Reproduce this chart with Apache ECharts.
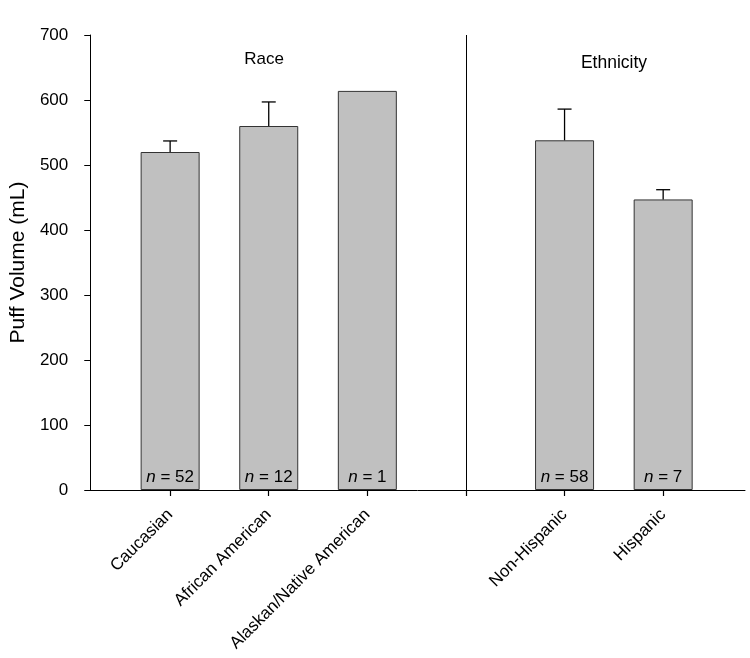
<!DOCTYPE html>
<html>
<head>
<meta charset="utf-8">
<script src="https://cdn.jsdelivr.net/npm/echarts@6/dist/echarts.min.js"></script>
<style>
html,body{margin:0;padding:0;background:#fff;}
#chart{width:750px;height:658px;}
</style>
</head>
<body>
<div id="chart"></div>
<script>
// Data
var categories = ['Caucasian', 'African American', 'Alaskan/Native American', '', 'Non-Hispanic', 'Hispanic'];
var barPositions = [0, 1, 2, 4, 5];
var means = [520, 560, 614, 538, 447];
var errorTops = [537, 597, null, 586, 462];
var nValues = [52, 12, 1, 58, 7];
var groupTitles = ['Race', 'Ethnicity'];
var separatorPos = 3;

var barData = barPositions.map(function (p, i) { return [p, means[i], nValues[i]]; });
var errData = [];
barPositions.forEach(function (p, i) {
  if (errorTops[i] != null) errData.push([p, means[i], errorTops[i]]);
});

var chart = echarts.init(document.getElementById('chart'));
var font = 'Liberation Sans, Arial, sans-serif';

chart.setOption({
  animation: false,
  backgroundColor: '#ffffff',
  textStyle: { fontFamily: font },
  grid: { left: 90, right: 5, top: 35, bottom: 168 },
  xAxis: {
    type: 'value',
    min: -0.81,
    max: 5.83,
    splitLine: { show: false },
    axisLine: { show: true, onZero: false, lineStyle: { color: '#000', width: 1 } },
    axisTick: { show: true, inside: false, length: 6, customValues: [0, 1, 2, 3, 4, 5], lineStyle: { color: '#000', width: 1.2 } },
    axisLabel: {
      customValues: [0, 1, 2, 4, 5],
      formatter: function (v) { return categories[Math.round(v)]; },
      rotate: 45,
      fontSize: 17,
      color: '#000',
      fontFamily: font,
      margin: 22
    }
  },
  yAxis: {
    type: 'value',
    min: 0,
    max: 700,
    interval: 100,
    name: 'Puff Volume (mL)',
    nameLocation: 'middle',
    nameGap: 60,
    nameTextStyle: { fontSize: 21, color: '#000', fontFamily: font },
    splitLine: { show: false },
    axisLine: { show: true, onZero: false, lineStyle: { color: '#000', width: 1 } },
    axisTick: { show: true, inside: false, length: 6, lineStyle: { color: '#000' } },
    axisLabel: { fontSize: 17, color: '#000', fontFamily: font, margin: 22 }
  },
  graphic: [
    { type: 'text', x: 264, y: 59, style: { text: groupTitles[0], fill: '#000', font: '17px ' + font, textAlign: 'center', textVerticalAlign: 'middle' } },
    { type: 'text', x: 614, y: 63, style: { text: groupTitles[1], fill: '#000', font: '17.5px ' + font, textAlign: 'center', textVerticalAlign: 'middle' } }
  ],
  series: [
    {
      type: 'bar',
      data: barData,
      barWidth: 59,
      itemStyle: { color: '#c0c0c0', borderColor: '#333', borderWidth: 1 },
      label: {
        show: true,
        position: 'insideBottom',
        distance: 4,
        formatter: function (p) { return '{i|n} = ' + p.data[2]; },
        fontSize: 17,
        color: '#000',
        fontFamily: font,
        rich: { i: { fontStyle: 'italic', fontSize: 17, fontFamily: font, color: '#000' } }
      },
      markLine: {
        silent: true,
        symbol: ['none', 'none'],
        label: { show: false },
        lineStyle: { color: '#000', type: 'solid', width: 1 },
        data: [[{ coord: [separatorPos, 0] }, { coord: [separatorPos, 700] }]]
      }
    },
    {
      type: 'custom',
      data: errData,
      renderItem: function (params, api) {
        var x = api.value(0);
        var top = api.coord([x, api.value(1)]);
        var err = api.coord([x, api.value(2)]);
        var cap = 7;
        var style = { stroke: '#000', lineWidth: 1.3, fill: null };
        return {
          type: 'group',
          children: [
            { type: 'line', shape: { x1: top[0], y1: top[1], x2: err[0], y2: err[1] }, style: style },
            { type: 'line', shape: { x1: err[0] - cap, y1: err[1], x2: err[0] + cap, y2: err[1] }, style: style }
          ]
        };
      },
      z: 3
    }
  ]
});
</script>
</body>
</html>
